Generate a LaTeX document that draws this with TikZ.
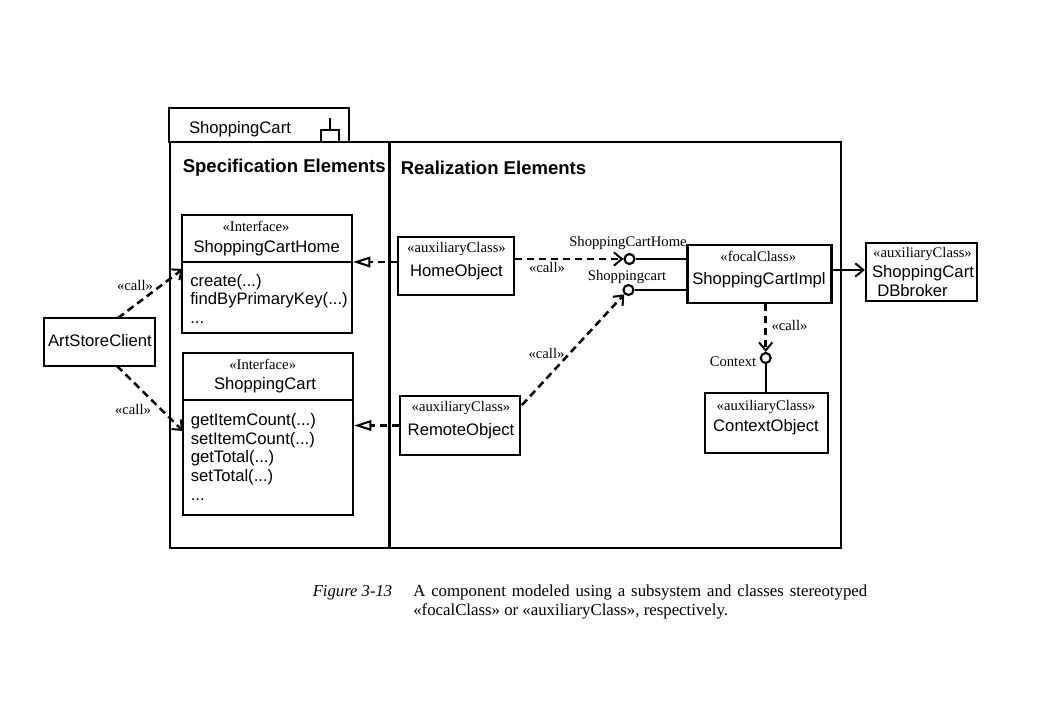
\documentclass[tikz,border=0pt]{standalone}
\usepackage{fontspec}
\setmainfont{Liberation Serif}
\newfontfamily\arialf{Liberation Sans}
\usetikzlibrary{arrows.meta,calc}
\begin{document}
\begin{tikzpicture}[x=0.75pt,y=-0.75pt,
  ubox/.style 2 args={draw,line width=1.7pt,minimum width=#1*0.75pt,minimum height=#2*0.75pt,inner sep=0pt},
  sans/.style={font=\arialf\fontsize{12.5}{15}\selectfont,inner sep=0pt},
  op/.style={font=\arialf\fontsize{12.5}{15}\selectfont,inner sep=0pt,anchor=base west},
  head/.style={font=\arialf\bfseries\fontsize{13.9}{16}\selectfont,inner sep=0pt,anchor=west},
  stereo/.style={font=\fontsize{11}{13}\selectfont,inner sep=0pt},
  lbl/.style={font=\fontsize{11}{13}\selectfont,inner sep=0pt},
  captxt/.style={font=\fontsize{12.6}{15}\selectfont,inner sep=0pt,anchor=base west},
  dep/.style={line width=1.9pt,dash pattern=on 5.5pt off 3.5pt,-{Straight Barb[length=6pt,width=10pt,line width=1.5pt]}},
  real/.style={line width=1.9pt,dash pattern=on 5.5pt off 3.5pt,-{Triangle[open,length=13pt,width=8pt,line width=1.5pt]}},
  solid/.style={line width=1.7pt},
  lolly/.style={circle,draw,line width=1.6pt,minimum size=7.5pt,inner sep=0pt,fill=white},
]
\useasboundingbox (0,0) rectangle (1040,720);

% package frame and tab
\node[ubox={180}{34}] (tab) at (259,125) {};
\node[ubox={671}{406}] (pkg) at (505.5,345) {};
\coordinate (divtop) at (389.5,142);
\coordinate (divbot) at (389.5,548);
\draw[solid] (divtop) -- (divbot);
\node[sans] (tabtxt) at (240,129) {ShoppingCart};
\node[draw,line width=1.5pt,minimum width=18*0.75pt,minimum height=12*0.75pt,inner sep=0pt] (fork) at (330.3,135.7) {};
\coordinate (forktop) at (330.3,118);
\draw[line width=1.5pt] (fork.north) -- (forktop);
\node[head] (spec) at (182.5,168) {Specification Elements};
\node[head] (realz) at (400.5,168) {Realization Elements};

% ShoppingCartHome interface
\node[ubox={170}{118}] (sch) at (267,274) {};
\coordinate (schsep) at (267,262);
\draw[solid] (sch.west |- schsep) -- (sch.east |- schsep);
\node[stereo] (schst) at (256,226.7) {«Interface»};
\node[sans] (schnm) at (266.7,248) {ShoppingCartHome};
\node[op] (op1) at (190,287) {create(...)};
\node[op] (op2) at (190,305) {findByPrimaryKey(...)};
\node[op] (op3) at (190,324) {...};

% ShoppingCart interface
\node[ubox={170}{162}] (sc) at (268,434) {};
\coordinate (scsep) at (268,400);
\draw[solid] (sc.west |- scsep) -- (sc.east |- scsep);
\node[stereo] (scst) at (262.7,364) {«Interface»};
\node[sans] (scnm) at (265,385) {ShoppingCart};
\node[op] (op4) at (190.5,426) {getItemCount(...)};
\node[op] (op5) at (190.5,444.5) {setItemCount(...)};
\node[op] (op6) at (190.5,463) {getTotal(...)};
\node[op] (op7) at (190.5,482) {setTotal(...)};
\node[op] (op8) at (190.5,500) {...};

% ArtStoreClient
\node[ubox={111}{48}] (asc) at (99.5,342) {};
\node[sans] (asctxt) at (100,341) {ArtStoreClient};
\coordinate (asctop) at (118,318);
\coordinate (ascbot) at (117,366);
\coordinate (schin) at (183,269);
\coordinate (scin) at (183,431);
\draw[dep] (asctop) -- (schin);
\draw[dep] (ascbot) -- (scin);
\node[lbl] (call1) at (135,285) {«call»};
\node[lbl] (call2) at (133,409) {«call»};

% HomeObject
\node[ubox={116}{58}] (hob) at (456,266) {};
\node[stereo] (hobst) at (456.5,249) {«auxiliaryClass»};
\node[sans] (hobnm) at (456.5,272) {HomeObject};
\draw[real] (hob.west |- schsep) -- (sch.east |- schsep);

% RemoteObject
\node[ubox={120}{59}] (rob) at (460,425.5) {};
\node[stereo] (robst) at (461,408) {«auxiliaryClass»};
\node[sans] (robnm) at (461,431.5) {RemoteObject};
\draw[real] (rob.west) -- (sc.east |- rob.west);

% ShoppingCartImpl
\node[ubox={144}{58}] (impl) at (759.5,274) {};
\node[stereo] (implst) at (758.3,256.5) {«focalClass»};
\node[sans] (implnm) at (759,280) {ShoppingCartImpl};

% lollipops
\node[lolly] (c1) at (629.5,259) {};
\node[lolly] (c2) at (628.5,290) {};
\draw[solid] (c1.east) -- (impl.west |- c1.east);
\draw[solid] (c2.east) -- (impl.west |- c2.east);
\node[lbl] (l1) at (628,242.5) {ShoppingCartHome};
\node[lbl] (l2) at (627,276.5) {Shoppingcart};
\draw[dep] (hob.east |- c1.west) -- (c1.west);
\node[lbl] (call3) at (547,267) {«call»};
\coordinate (robout) at (522,405);
\draw[dep] (robout) -- (c2.south west);
\node[lbl] (call4) at (546.5,353.5) {«call»};

% DB broker
\node[ubox={111}{58}] (dbb) at (921.5,272) {};
\node[stereo] (dbbst) at (922.5,253.5) {«auxiliaryClass»};
\node[sans] (dbbnm1) at (923,273) {ShoppingCart};
\node[sans] (dbbnm2) at (912.5,290.5) {DBbroker};
\coordinate (dbbrow) at (850,270);
\draw[solid,-{Straight Barb[length=6pt,width=10pt,line width=1.5pt]}] (impl.east |- dbbrow) -- (dbb.west |- dbbrow);

% Context
\node[lolly] (c3) at (765.7,358) {};
\node[ubox={123}{60}] (ctx) at (766.5,423) {};
\node[stereo] (ctxst) at (766,406.5) {«auxiliaryClass»};
\node[sans] (ctxnm) at (766,427.5) {ContextObject};
\draw[dep] (impl.south -| c3.north) -- (c3.north);
\draw[solid] (c3.south) -- (ctx.north -| c3.south);
\node[lbl] (call5) at (789.5,325) {«call»};
\node[lbl] (ctxl) at (733,361.5) {Context};

% caption
\node[captxt,font=\itshape\fontsize{12.5}{15}\selectfont] (fig) at (312.5,596) {Figure 3-13};
\node[captxt] (cap1) at (413,596) {\hbox to 340.5pt{A component modeled using a subsystem and classes stereotyped}};
\node[captxt] (cap2) at (413,615.5) {«focalClass» or «auxiliaryClass», respectively.};
\end{tikzpicture}
\end{document}
